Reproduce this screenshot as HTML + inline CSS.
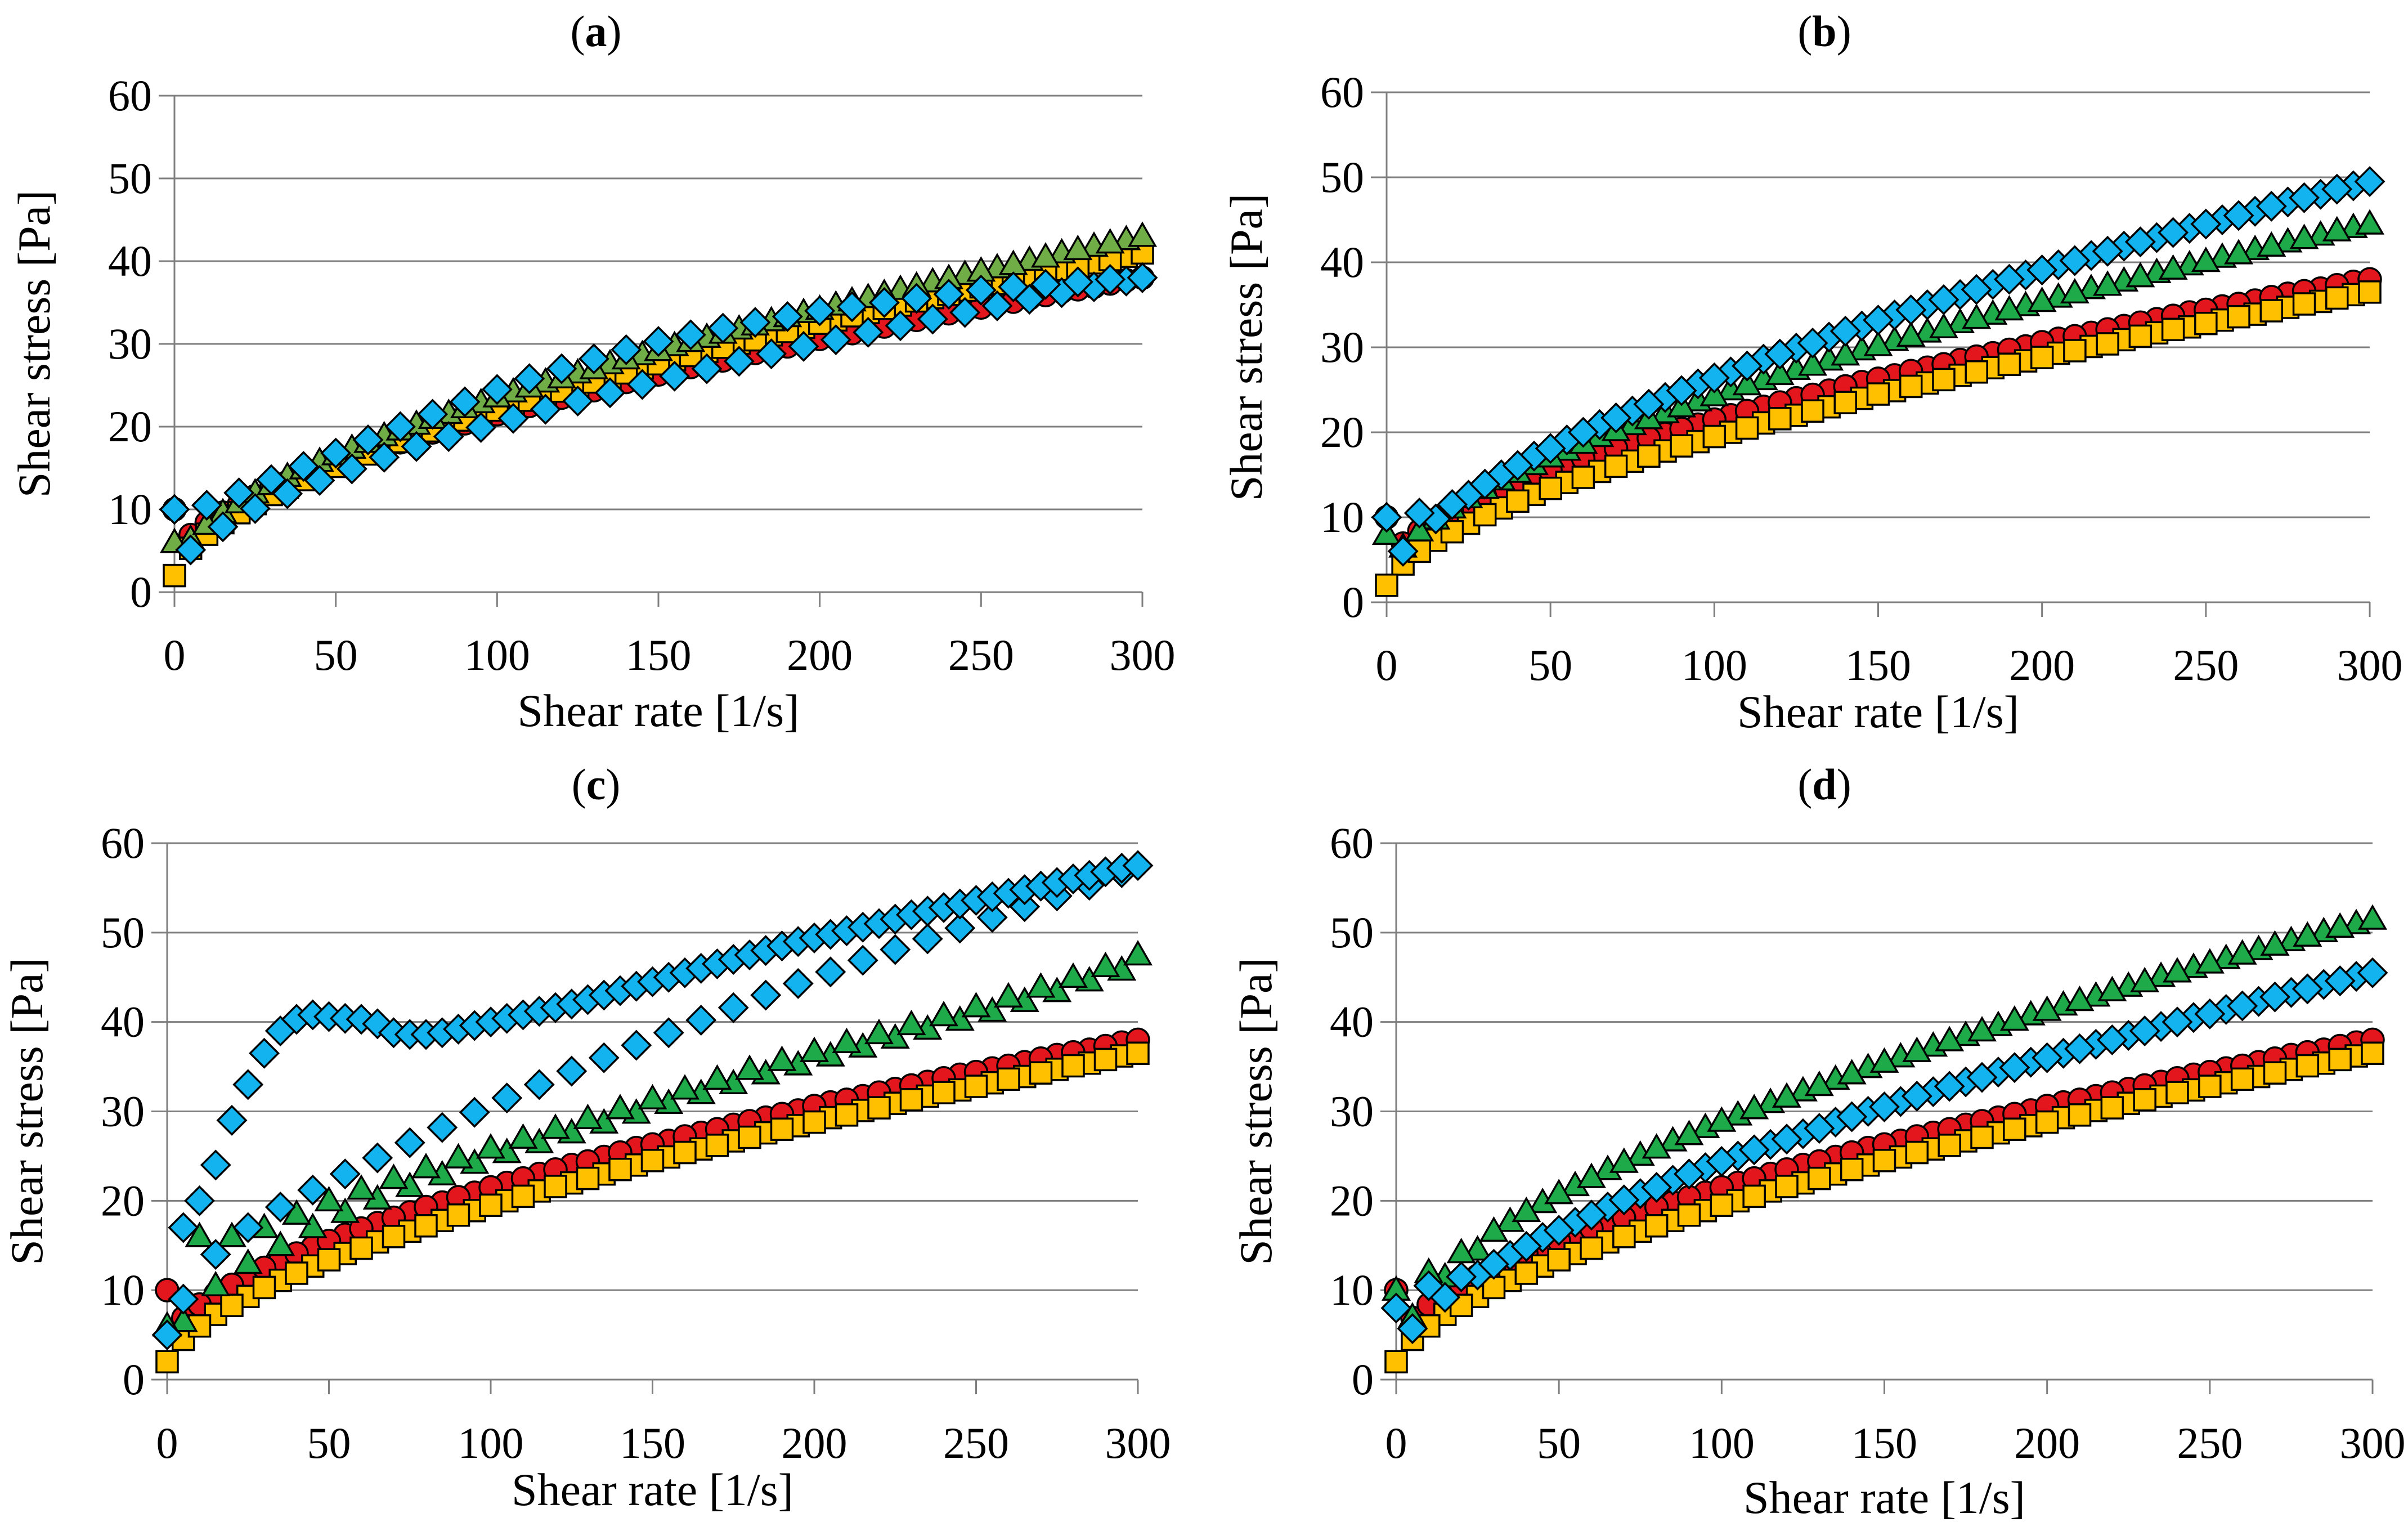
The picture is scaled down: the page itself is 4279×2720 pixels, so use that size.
<!DOCTYPE html>
<html><head><meta charset="utf-8">
<style>
html,body{margin:0;padding:0;background:#fff;}
svg{display:block;}
text{font-family:"Liberation Serif",serif;fill:#000;}
</style></head>
<body>
<svg id="chart" width="4279" height="2720" viewBox="0 0 4279 2720" xmlns="http://www.w3.org/2000/svg"></svg>
<script>
// ---- shared x grids (shear rate, 1/s) ----
const X_UP = [0,10,20,30,40,50,60,70,80,90,100,110,120,130,140,150,160,170,180,190,200,210,220,230,240,250,260,270,280,290,300];
const X_DN = [5,15,25,35,45,55,65,75,85,95,105,115,125,135,145,155,165,175,185,195,205,215,225,235,245,255,265,275,285,295];
const X_FINE = [0,5,10,15,20,25,30,35,40,45,50,55,60,65,70,75,80,85,90,95,100,105,110,115,120,125,130,135,140,145,150,155,160,165,170,175,180,185,190,195,200,205,210,215,220,225,230,235,240,245,250,255,260,265,270,275,280,285,290,295,300];
const X_TICKS = [0,50,100,150,200,250,300];
const Y_TICKS = [0,10,20,30,40,50,60];

// ---- series values (shear stress, Pa) ----
const RED_UP = [10,8.4,10.6,12.5,14.1,15.5,16.9,18.1,19.3,20.4,21.5,22.5,23.5,24.4,25.4,26.3,27.2,28.0,28.9,29.7,30.6,31.3,32.1,32.9,33.7,34.4,35.1,35.9,36.6,37.3,38];
const RED_DN = [6.9,9.6,11.6,13.3,14.8,16.2,17.5,18.7,19.8,20.9,22.0,23.0,24.0,24.9,25.9,26.7,27.6,28.5,29.3,30.1,31.0,31.7,32.5,33.3,34.1,34.8,35.5,36.3,36.9,37.7];

const YEL_A_UP = [2,7.0,9.6,11.8,13.6,15.2,16.7,18.2,19.5,20.8,22.0,23.2,24.3,25.4,26.5,27.6,28.6,29.6,30.5,31.5,32.5,33.4,34.3,35.2,36.0,36.9,37.7,38.6,39.4,40.2,41];
const YEL_A_DN = [5.3,8.4,10.7,12.7,14.4,16.0,17.5,18.8,20.2,21.4,22.6,23.8,24.9,26.0,27.1,28.1,29.1,30.1,31.1,32.0,32.9,33.8,34.7,35.6,36.5,37.3,38.2,39.0,39.8,40.6];
const GRN_A_UP = [6,8.2,10.8,13.0,14.9,16.6,18.1,19.6,21.0,22.3,23.6,24.8,25.9,27.0,28.2,29.2,30.3,31.3,32.3,33.3,34.2,35.2,36.1,37.0,37.9,38.8,39.6,40.5,41.4,42.2,43];
const GRN_A_DN = [6.4,9.6,12.0,14.0,15.8,17.4,18.9,20.3,21.6,22.9,24.2,25.4,26.5,27.6,28.7,29.8,30.8,31.8,32.8,33.8,34.7,35.6,36.6,37.5,38.4,39.2,40.1,41.0,41.8,42.6];
const BLU_A_UP = [10,10.5,12,13.6,15.2,16.8,18.4,20,21.5,23,24.5,25.8,27,28.2,29.3,30.3,31.1,31.9,32.6,33.3,34,34.5,35,35.5,36,36.5,36.9,37.2,37.5,37.8,38];
const BLU_A_DN = [5.1,7.9,10.1,11.9,13.5,14.9,16.3,17.6,18.8,19.9,21.0,22.1,23.1,24.1,25.1,26.1,27.0,27.9,28.8,29.7,30.5,31.4,32.2,33.0,33.8,34.6,35.4,36.2,36.9,37.6];

const YEL_UP = [2,6.0,8.3,10.3,11.9,13.4,14.7,16.0,17.2,18.4,19.5,20.5,21.6,22.5,23.5,24.5,25.4,26.2,27.1,28.0,28.8,29.6,30.4,31.3,32.1,32.8,33.6,34.3,35.1,35.8,36.5];
const YEL_DN = [4.5,7.3,9.3,11.1,12.7,14.1,15.4,16.6,17.8,18.9,20.0,21.1,22.0,23.0,24.0,24.9,25.8,26.7,27.6,28.4,29.3,30.1,30.9,31.7,32.4,33.2,33.9,34.7,35.4,36.2];
const GRN_B_UP = [8,8.4,11.1,13.4,15.3,17.1,18.7,20.2,21.6,23.0,24.3,25.6,26.8,27.9,29.1,30.2,31.3,32.3,33.4,34.4,35.4,36.4,37.3,38.3,39.2,40.1,41.0,41.9,42.8,43.7,44.5];
const GRN_B_DN = [6.5,9.8,12.3,14.4,16.2,17.9,19.5,20.9,22.3,23.7,25.0,26.2,27.4,28.5,29.7,30.8,31.8,32.9,33.9,34.9,35.9,36.9,37.8,38.8,39.7,40.6,41.5,42.4,43.2,44.1];
const BLU_B_UP = [10,10.5,11.5,13.9,16.1,18.1,20.0,21.7,23.3,24.9,26.4,27.8,29.2,30.5,31.9,33.2,34.4,35.6,36.8,38.0,39.1,40.2,41.3,42.4,43.5,44.5,45.5,46.6,47.6,48.6,49.5];
const BLU_B_DN = [6.0,9.8,12.6,15.0,17.2,19.1,20.9,22.5,24.1,25.7,27.1,28.6,29.9,31.2,32.5,33.8,35.0,36.2,37.4,38.5,39.7,40.8,41.9,42.9,44.0,45.0,46.0,47.1,48.0,49.0];

const GRN_C_UP = [6,16,16,17,18.5,20,21.3,22.5,23.7,24.8,25.9,27,28.1,29.2,30.3,31.4,32.5,33.6,34.7,35.7,36.7,37.7,38.7,39.7,40.7,41.7,42.8,43.9,45,46.2,47.5];
const GRN_C_DN = [6.5,10.5,13,15,17,18.7,20.2,21.6,22.9,24.2,25.4,26.5,27.6,28.7,29.8,30.9,32,33.1,34.2,35.2,36.2,37.2,38.2,39.2,40.2,41.2,42.3,43.4,44.6,45.8];
const BLU_C_UP = [5,17,20,24,29,33,36.5,39,40.3,40.8,40.6,40.4,40.3,39.8,38.8,38.6,38.6,38.8,39.2,39.6,40,40.4,40.8,41.2,41.6,42,42.5,43,43.5,44,44.5,45,45.5,46,46.5,47,47.5,48,48.5,49,49.4,49.8,50.2,50.6,51,51.5,52,52.4,52.8,53.2,53.6,54,54.4,54.8,55.2,55.6,56,56.4,56.8,57.2,57.5];
const BLU_C_DN = [9,14,17,19.3,21.2,23,24.8,26.5,28.2,29.9,31.5,33,34.5,36,37.4,38.8,40.2,41.6,43,44.3,45.6,46.9,48.1,49.3,50.5,51.7,52.9,54.1,55.3,56.7];

const GRN_D_UP = [10,12,14.2,16.6,18.8,20.8,22.6,24.3,25.9,27.4,28.9,30.3,31.6,32.9,34.2,35.5,36.7,37.9,39.0,40.2,41.3,42.4,43.5,44.5,45.6,46.6,47.6,48.6,49.6,50.6,51.5];
const GRN_D_DN = [7,11.5,14.5,17.7,19.8,21.7,23.5,25.1,26.7,28.2,29.6,31.0,32.3,33.6,34.9,36.1,37.3,38.5,39.6,40.8,41.9,42.9,44.0,45.1,46.1,47.1,48.1,49.1,50.1,51.0];
const BLU_D_UP = [8,10.5,11.5,12.9,14.9,16.7,18.4,20.1,21.5,23.0,24.4,25.7,26.9,28.1,29.4,30.5,31.7,32.8,33.8,34.9,36.0,37.0,38.0,39.0,40.0,40.9,41.8,42.8,43.7,44.6,45.5];
const BLU_D_DN = [5.7,9.2,11.7,13.9,15.9,17.6,19.3,20.8,22.3,23.7,25.0,26.3,27.5,28.8,30.0,31.1,32.2,33.3,34.4,35.5,36.5,37.5,38.5,39.5,40.5,41.4,42.3,43.3,44.2,45.1];

const NS = 'http://www.w3.org/2000/svg';
const svg = document.getElementById('chart');
function mk(tag, attrs, parent){
  const e = document.createElementNS(NS, tag);
  for (const k in attrs) e.setAttribute(k, attrs[k]);
  (parent||svg).appendChild(e);
  return e;
}
const COLORS = {red:'#e3161d', yellow:'#ffc000', green:'#1faa4a', greenA:'#70ad47', blue:'#12b3ef'};

const panels = [
  {id:'a', x0:310, x1:2030, y0:1052, y1:170, label:'a', lx:1059, ly:82, tickY:1190, titleY:1290,
   series:[['red',X_DN,RED_DN,'circle'],['red',X_UP,RED_UP,'circle'],['yellow',X_DN,YEL_A_DN,'square'],['yellow',X_UP,YEL_A_UP,'square'],['greenA',X_DN,GRN_A_DN,'triangle'],['greenA',X_UP,GRN_A_UP,'triangle'],['blue',X_DN,BLU_A_DN,'diamond'],['blue',X_UP,BLU_A_UP,'diamond']]},
  {id:'b', x0:2464, x1:4211, y0:1070, y1:164, label:'b', lx:3242, ly:82, tickY:1208, titleY:1292,
   series:[['red',X_DN,RED_DN,'circle'],['red',X_UP,RED_UP,'circle'],['yellow',X_DN,YEL_DN,'square'],['yellow',X_UP,YEL_UP,'square'],['green',X_DN,GRN_B_DN,'triangle'],['green',X_UP,GRN_B_UP,'triangle'],['blue',X_DN,BLU_B_DN,'diamond'],['blue',X_UP,BLU_B_UP,'diamond']]},
  {id:'c', x0:297, x1:2022, y0:2451, y1:1498, label:'c', lx:1059, ly:1420, tickY:2590, titleY:2674,
   series:[['red',X_DN,RED_DN,'circle'],['red',X_UP,RED_UP,'circle'],['yellow',X_DN,YEL_DN,'square'],['yellow',X_UP,YEL_UP,'square'],['green',X_DN,GRN_C_DN,'triangle'],['green',X_UP,GRN_C_UP,'triangle'],['blue',X_DN,BLU_C_DN,'diamond'],['blue',X_FINE,BLU_C_UP,'diamond']]},
  {id:'d', x0:2481, x1:4216, y0:2451, y1:1498, label:'d', lx:3242, ly:1420, tickY:2590, titleY:2688,
   series:[['red',X_DN,RED_DN,'circle'],['red',X_UP,RED_UP,'circle'],['yellow',X_DN,YEL_DN,'square'],['yellow',X_UP,YEL_UP,'square'],['green',X_DN,GRN_D_DN,'triangle'],['green',X_UP,GRN_D_UP,'triangle'],['blue',X_DN,BLU_D_DN,'diamond'],['blue',X_UP,BLU_D_UP,'diamond']]}
];

panels.forEach(p => {
  const g = mk('g', {});
  
  
  const sx = v => p.x0 + (v/300)*(p.x1-p.x0);
  const sy = v => p.y0 - (v/60)*(p.y0-p.y1);
  const t = mk('text', {x:p.lx, y:p.ly, 'font-size':78, 'text-anchor':'middle'}, g);
  t.innerHTML = '(<tspan font-weight="bold">' + p.label + '</tspan>)';
  
  
  Y_TICKS.forEach(v => {
    const ln = mk('line', {x1:p.x0-28, x2:p.x1, y1:sy(v), y2:sy(v), stroke:'#7f7f7f', 'stroke-width':3}, g);
    
    
    const tx = mk('text', {x:p.x0-40, y:sy(v)+26, 'font-size':78, 'text-anchor':'end'}, g);
    tx.textContent = v;
    
    
  });
  const ax = mk('line', {x1:p.x0, x2:p.x0, y1:p.y1, y2:p.y0+26, stroke:'#7f7f7f', 'stroke-width':3}, g);
  
  
  X_TICKS.forEach(v => {
    const tk = mk('line', {x1:sx(v), x2:sx(v), y1:p.y0, y2:p.y0+26, stroke:'#7f7f7f', 'stroke-width':3}, g);
    
    
    const tx = mk('text', {x:sx(v), y:p.tickY, 'font-size':78, 'text-anchor':'middle'}, g);
    tx.textContent = v;
    
    
  });
  const xt = mk('text', {x:(p.x0+p.x1)/2, y:p.titleY, 'font-size':82, 'text-anchor':'middle'}, g);
  xt.textContent = 'Shear rate [1/s]';
  
  
  const cyy = (p.y0+p.y1)/2;
  const cxx = p.x0 - 222;
  const yt = mk('text', {x:cxx, y:cyy, 'font-size':82, 'text-anchor':'middle', transform:'rotate(-90 '+cxx+' '+cyy+')'}, g);
  yt.textContent = 'Shear stress [Pa]';
  
  
  p.series.forEach(([col, xs, ys, shape]) => {
    const sg = mk('g', {fill:COLORS[col], stroke:'#000', 'stroke-width':3.5}, g);
    
    
    ys.forEach((v, i) => {
      const cx = sx(xs[i]), cy = sy(v);
      let m;
      if (shape === 'circle') m = mk('circle', {cx:cx, cy:cy, r:20}, sg);
      else if (shape === 'square') m = mk('rect', {x:cx-19, y:cy-19, width:38, height:38}, sg);
      else if (shape === 'triangle') m = mk('polygon', {points:(cx)+','+(cy-23)+' '+(cx+23)+','+(cy+17)+' '+(cx-23)+','+(cy+17)}, sg);
      else m = mk('polygon', {points:(cx)+','+(cy-25)+' '+(cx+25)+','+(cy)+' '+(cx)+','+(cy+25)+' '+(cx-25)+','+(cy)}, sg);
      
      
    });
  });
});
</script>
</body></html>
